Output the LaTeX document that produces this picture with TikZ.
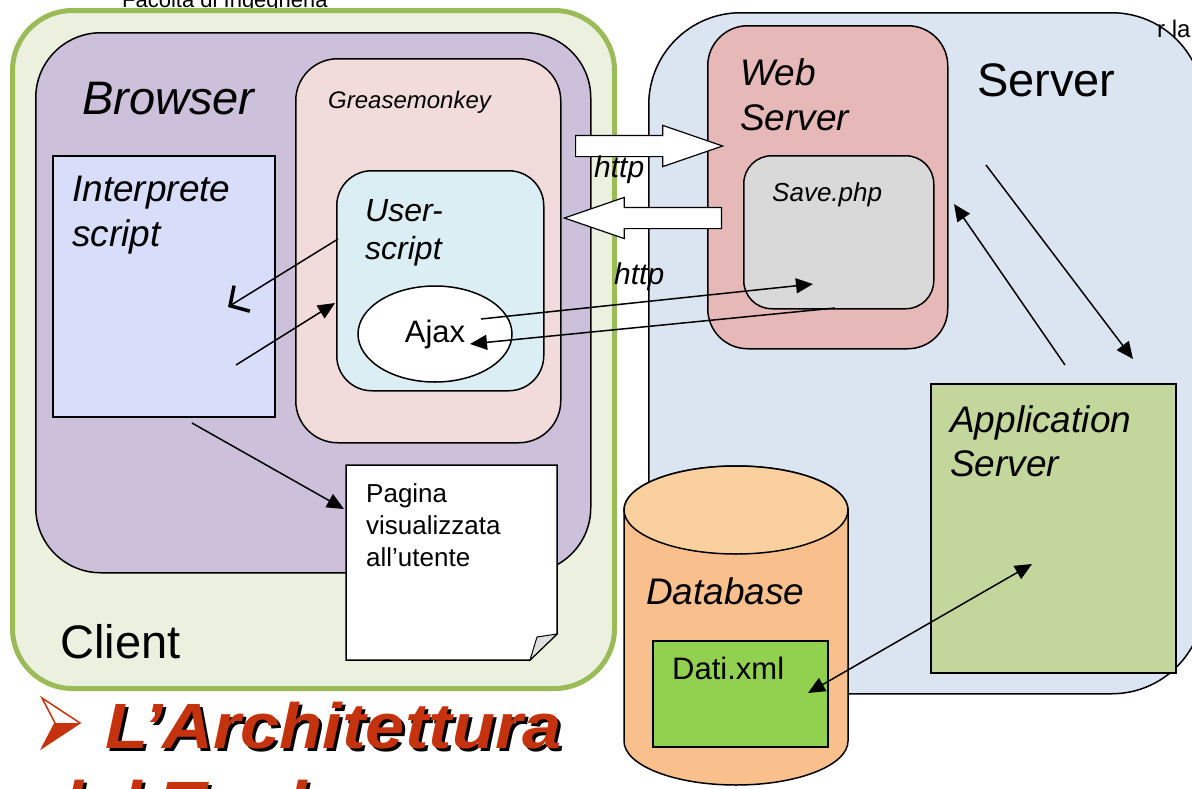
\documentclass[tikz,border=0pt]{standalone}
\usepackage{fontspec}
\setmainfont{Liberation Sans}
\usetikzlibrary{arrows.meta}
\usetikzlibrary{shapes.geometric, shapes.arrows}

\definecolor{clientfill}{HTML}{EBF1DE}
\definecolor{clientline}{HTML}{9BBB59}
\definecolor{browserfill}{HTML}{CCC0DA}
\definecolor{gmfill}{HTML}{F2DCDB}
\definecolor{interpfill}{HTML}{D8DEFA}
\definecolor{userfill}{HTML}{DBEEF3}
\definecolor{serverfill}{HTML}{DBE5F1}
\definecolor{webfill}{HTML}{E6B9B8}
\definecolor{savefill}{HTML}{D9D9D9}
\definecolor{appfill}{HTML}{C3D69B}
\definecolor{dbbody}{HTML}{F9C08E}
\definecolor{dbtop}{HTML}{FBD09F}
\definecolor{datifill}{HTML}{92D050}
\definecolor{titlered}{HTML}{C4330E}

\tikzset{
  box/.style={draw=black, line width=1.5pt, anchor=north west, inner sep=0pt},
  lbl/.style={anchor=north west, inner sep=0pt, align=left},
  http/.style={single arrow, draw=black, fill=white, line width=1.2pt,
    inner xsep=0pt, inner ysep=10pt, single arrow head extend=10pt,
    single arrow tip angle=38, anchor=tail},
  title/.style={anchor=base west, inner sep=0pt, xscale=1.1,
    font=\fontsize{64}{77}\selectfont\bfseries\itshape},
}

\begin{document}
\begin{tikzpicture}[x=1pt, y=-1pt]
\useasboundingbox (0,0) rectangle (1192,788);
\clip (0,0) rectangle (1192,788);

% header, cut off at the top
\node[anchor=base west, inner sep=0pt, font=\fontsize{22}{26}\selectfont] (fac) at (122,7) {Facoltà di Ingegneria};

% client side
\node[box, draw=clientline, line width=5pt, fill=clientfill, rounded corners=60pt,
      minimum width=602pt, minimum height=678pt] (client) at (10,8) {};
\node[box, fill=browserfill, rounded corners=65pt, minimum width=555pt, minimum height=540pt] (browser) at (35,32) {};
\node[box, fill=gmfill, rounded corners=42pt, minimum width=265pt, minimum height=384pt] (gm) at (295,58) {};
\node[box, fill=interpfill, minimum width=222pt, minimum height=261pt] (interp) at (52,155) {};
\node[box, fill=userfill, rounded corners=35pt, minimum width=207pt, minimum height=220pt] (user) at (336,170) {};
\node[ellipse, draw=black, line width=1.5pt, fill=white, minimum width=154pt, minimum height=96pt,
      font=\fontsize{31}{37}\selectfont] (ajax) at (435,334) {Ajax};

% page shown to the user (folded corner)
\filldraw[fill=white, draw=black, line width=1.5pt] (346,465) -- (557,465) -- (557,634) -- (530,660) -- (346,660) -- cycle;
\filldraw[fill=gray!25, draw=black, line width=1pt] (557,634) -- (530,660) .. controls (533,648) .. (537,637) -- cycle;

% server side
\node[box, fill=serverfill, rounded corners=92pt, minimum width=555pt, minimum height=681pt] (server) at (648,12) {};
\node[box, fill=webfill, rounded corners=40pt, minimum width=240pt, minimum height=323pt] (web) at (707,25) {};
\node[box, fill=savefill, rounded corners=28pt, minimum width=190pt, minimum height=153pt] (save) at (743,155) {};
\node[box, fill=appfill, minimum width=245pt, minimum height=289pt] (app) at (930,383) {};

% database cylinder
\filldraw[fill=dbbody, draw=black, line width=1.5pt] (624,510) -- (624,741)
  arc[start angle=180, end angle=360, x radius=112pt, y radius=44pt] -- (848,510)
  arc[start angle=0, end angle=180, x radius=112pt, y radius=44pt] -- cycle;
\filldraw[fill=dbtop, draw=black, line width=1.5pt] (736,510) ellipse[x radius=112pt, y radius=44pt];
\node[box, fill=datifill, minimum width=175pt, minimum height=106pt] (dati) at (652,640) {};

% http requests
\node[http, minimum height=147pt] (req) at (575,146) {};
\node[http, minimum height=157pt, shape border rotate=180] (resp) at (722,218) {};

% arrow ends
\coordinate (usout) at (338,239);
\coordinate (ipin) at (228,307);
\coordinate (ipout) at (236,365);
\coordinate (usin) at (335,303);
\coordinate (ipdown) at (192,423);
\coordinate (pagein) at (344,509);
\coordinate (ajaxout) at (481,319);
\coordinate (savein) at (813,284);
\coordinate (saveout) at (835,308);
\coordinate (ajaxin) at (470,344);
\coordinate (webout) at (986,165);
\coordinate (appin) at (1133,359);
\coordinate (appout) at (1065,365);
\coordinate (webin) at (954,204);
\coordinate (datiend) at (808,693);
\coordinate (append) at (1032,564);

\begin{scope}[>={Triangle[length=17pt, width=15pt]},
              every edge/.style={draw=black, line width=1.5pt}]
\path [->] (ipout) edge (usin);
\path [->] (ipdown) edge (pagein);
\path [->] (ajaxout) edge (savein);
\path [->] (saveout) edge (ajaxin);
\path [->] (webout) edge (appin);
\path [->] (appout) edge (webin);
\path [<->] (datiend) edge (append);
\path [-{Straight Barb[length=14pt, width=30pt, line width=3.5pt]}] (usout) edge (ipin);
\end{scope}

% labels
\node[lbl, font=\fontsize{47}{56}\selectfont\itshape] (browserlbl) at (82,82) {Browser};
\node[lbl, font=\fontsize{24}{29}\selectfont\itshape] (gmlbl) at (328,91) {Greasemonkey};
\node[lbl, font=\fontsize{37}{45}\selectfont\itshape] (interplbl) at (72,176) {Interprete\\script};
\node[lbl, font=\fontsize{32}{38}\selectfont\itshape] (userlbl) at (365,199) {User-\\script};
\node[lbl, font=\fontsize{26}{32}\selectfont] (pagina) at (366,483) {Pagina\\visualizzata\\all’utente};
\node[lbl, font=\fontsize{47}{55}\selectfont] (clientlbl) at (60,624) {Client};
\node[lbl, font=\fontsize{37}{45}\selectfont\itshape] (weblbl) at (740,58) {Web\\Server};
\node[lbl, font=\fontsize{47}{55}\selectfont] (serverlbl) at (977,63) {Server};
\node[lbl, font=\fontsize{26}{32}\selectfont\itshape] (savelbl) at (772,182) {Save.php};
\node[lbl, font=\fontsize{30}{36}\selectfont\itshape] (http1) at (594,156) {http};
\node[lbl, font=\fontsize{30}{36}\selectfont\itshape] (http2) at (614,263) {http};
\node[lbl, font=\fontsize{37}{44}\selectfont\itshape] (applbl) at (950,405) {Application\\Server};
\node[lbl, font=\fontsize{37}{44}\selectfont\itshape] (dblbl) at (646,577) {Database};
\node[lbl, font=\fontsize{31}{37}\selectfont] (datilbl) at (672,657) {Dati.xml};
\node[anchor=base west, inner sep=0pt, font=\fontsize{24}{29}\selectfont] (rla) at (1157,37) {r la};

% slide title with shadow
\filldraw[fill=white, draw=titlered, line width=1.5pt] (42,698) -- (80,723) -- (42,748) -- (55,723) -- cycle;
\fill[titlered] (55,723) -- (80,723) -- (42,748) -- cycle;
\node[title, text=black] (titleshadow) at (108,751) {L’Architettura};
\node[title, text=titlered] (titlelbl) at (105,748) {L’Architettura};
\node[title, text=black] (subshadow) at (43,829) {del Tool};
\node[title, text=titlered] (sublbl) at (40,826) {del Tool};
\end{tikzpicture}
\end{document}
